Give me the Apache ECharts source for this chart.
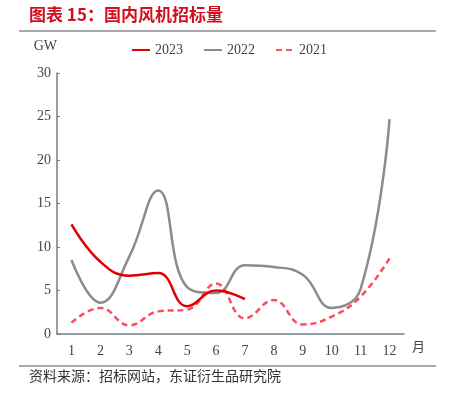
<!DOCTYPE html>
<html><head><meta charset="utf-8">
<script src="https://cdn.jsdelivr.net/npm/echarts@6/dist/echarts.min.js"></script>
<style>html,body{margin:0;padding:0;background:#fff}#c{width:456px;height:394px}</style>
</head><body><div id="c"></div>
<script>
var months = ['1','2','3','4','5','6','7','8','9','10','11','12'];
var s2023 = [12.6, 8.3, 6.7, 7.0, 3.2, 5.0, 4.0];
var s2022 = [8.5, 3.6, 8.9, 16.5, 5.4, 4.7, 7.9, 7.7, 6.8, 3.0, 5.2, 24.7];
var s2021 = [1.3, 3.0, 1.0, 2.6, 2.8, 5.8, 1.8, 3.9, 1.1, 2.0, 4.3, 8.7];
var yTicks = {min: 0, max: 30, interval: 5};

var serif = "'Liberation Serif', 'DejaVu Serif', serif";
var axisColor = '#6f8088';
var chart = echarts.init(document.getElementById('c'));
chart.setOption({
  animation: false,
  grid: {left: 57, right: 52, top: 73, bottom: 60},
  legend: {
    left: 126, top: 38, itemWidth: 18, itemHeight: 10, itemGap: 20,
    itemStyle: {opacity: 0},
    textStyle: {fontFamily: serif, fontSize: 14, color: '#444'},
    data: ['2023', '2022', '2021']
  },
  xAxis: {
    type: 'category', data: months, boundaryGap: true,
    name: '月', nameLocation: 'end', nameGap: 8,
    nameTextStyle: {fontFamily: "'Noto Sans CJK SC'", fontSize: 13, color: '#444', verticalAlign: 'top', padding: [6, 0, 0, 0]},
    axisLine: {lineStyle: {color: axisColor, width: 1.5}},
    axisTick: {inside: true, length: 4, lineStyle: {color: axisColor}},
    axisLabel: {fontFamily: serif, fontSize: 14, color: '#444', margin: 10}
  },
  yAxis: {
    type: 'value', min: yTicks.min, max: yTicks.max, interval: yTicks.interval,
    name: 'GW', nameLocation: 'end', nameGap: 20,
    nameTextStyle: {fontFamily: serif, fontSize: 14, color: '#444', align: 'right', padding: [0, 0, 0, 0]},
    axisLine: {show: true, lineStyle: {color: axisColor, width: 1.5}},
    axisTick: {show: true, inside: true, length: 3, lineStyle: {color: axisColor}},
    axisLabel: {fontFamily: serif, fontSize: 14, color: '#444', margin: 6},
    splitLine: {show: false}
  },
  series: [
    {name: '2023', type: 'line', data: s2023, smooth: 0.45, symbol: 'none',
     lineStyle: {color: '#e00000', width: 2.5}, itemStyle: {color: '#e00000'}, z: 5},
    {name: '2022', type: 'line', data: s2022, smooth: 0.45, symbol: 'none',
     lineStyle: {color: '#8c8c8c', width: 2.5}, itemStyle: {color: '#8c8c8c'}, z: 3},
    {name: '2021', type: 'line', data: s2021, smooth: 0.45, symbol: 'none',
     lineStyle: {color: '#ff4b5c', width: 2.5, type: [6, 4]}, itemStyle: {color: '#ff4b5c'}, z: 4}
  ],
  graphic: [
    {type: 'text', left: 29, top: 6, style: {text: '图表 15：国内风机招标量', fill: '#d0101e',
      font: "bold 17px 'Noto Sans CJK SC'"}},
    {type: 'line', shape: {x1: 19, y1: 31, x2: 436, y2: 31}, style: {stroke: '#555', lineWidth: 1}},
    {type: 'line', shape: {x1: 19, y1: 366, x2: 436, y2: 366}, style: {stroke: '#555', lineWidth: 1}},
    {type: 'text', left: 29, top: 369, style: {text: '资料来源：招标网站，东证衍生品研究院', fill: '#333',
      font: "14px 'Noto Sans CJK SC'"}}
  ]
});
</script></body></html>
